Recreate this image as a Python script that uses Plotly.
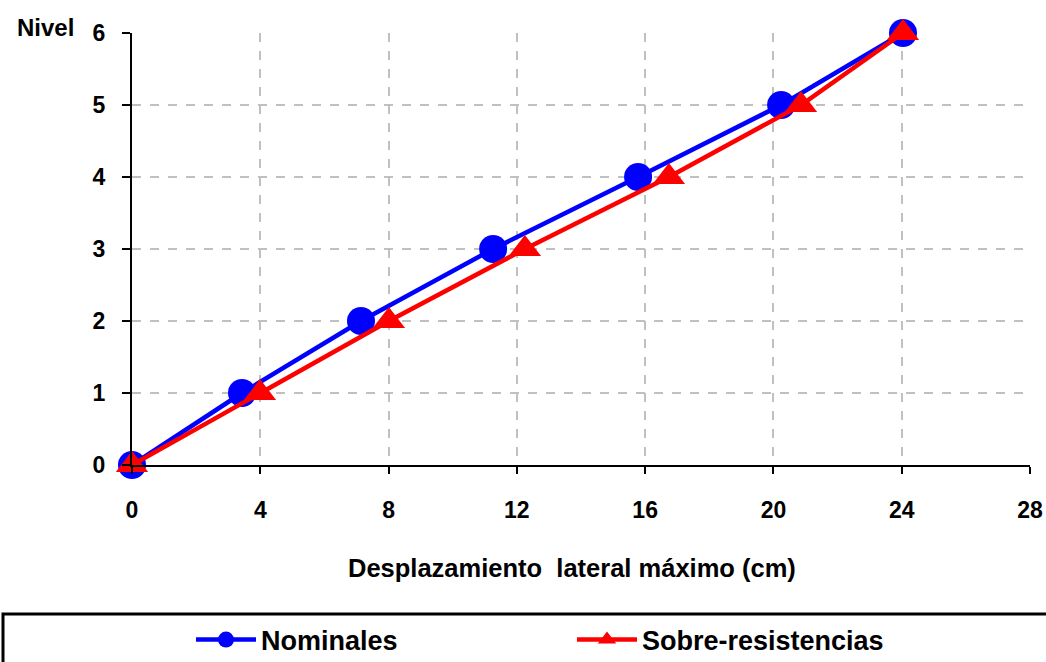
import plotly.graph_objects as go

niveles = [0, 1, 2, 3, 4, 5, 6]
nominales = [0, 3.43, 7.14, 11.26, 15.78, 20.24, 24.04]
sobre_resistencias = [0, 3.99, 8.01, 12.25, 16.74, 20.86, 24.04]
x_ticks = [0, 4, 8, 12, 16, 20, 24, 28]
y_ticks = [0, 1, 2, 3, 4, 5, 6]

FONT = "Liberation Sans, Arial, sans-serif"

fig = go.Figure()
fig.add_trace(go.Scatter(
    x=nominales, y=niveles, mode="lines+markers", name="Nominales",
    line=dict(color="#0000FF", width=4.5),
    marker=dict(symbol="circle", size=28, color="#0000FF"),
    cliponaxis=False,
))
fig.add_trace(go.Scatter(
    x=sobre_resistencias, y=niveles, mode="lines+markers", name="Sobre-resistencias",
    line=dict(color="#FF0000", width=4.5),
    marker=dict(symbol="triangle-up", size=28, color="#FF0000"),
    cliponaxis=False,
))

W, H = 1046, 662
L, R, T, B = 132, 16, 33, 662 - 465
pw = W - L - R
ph = H - T - B

def px_x(p):
    return (p - L) / pw

def px_y(p):
    return (H - B - p) / ph

fig.update_layout(
    width=W, height=H,
    margin=dict(l=L, r=R, t=T, b=B, autoexpand=False),
    paper_bgcolor="white", plot_bgcolor="white",
    font=dict(family=FONT, size=24, color="black"),
    showlegend=True,
    legend=dict(
        orientation="h", x=px_x(191), y=px_y(640), xanchor="left", yanchor="middle",
        entrywidth=306, entrywidthmode="pixels",
        font=dict(family=FONT, size=27, color="black", weight="bold"),
        bgcolor="rgba(0,0,0,0)", itemwidth=60,
    ),
    xaxis=dict(
        range=[0, 28], tickvals=x_ticks, ticktext=[str(v) for v in x_ticks],
        showline=True, linecolor="black", linewidth=2,
        ticks="outside", ticklen=7, tickwidth=2, tickcolor="black",
        ticklabelstandoff=16,
        showgrid=True, gridcolor="#c0c0c0", griddash="dash", gridwidth=2,
        zeroline=False, tickfont=dict(family=FONT, size=23, weight="bold"),
    ),
    yaxis=dict(
        range=[0, 6], tickvals=y_ticks, ticktext=[str(v) for v in y_ticks],
        showline=True, linecolor="black", linewidth=2,
        ticks="outside", ticklen=8, tickwidth=2, tickcolor="black",
        ticklabelstandoff=12,
        showgrid=True, gridcolor="#c0c0c0", griddash="dash", gridwidth=2,
        zeroline=False, tickfont=dict(family=FONT, size=23, weight="bold"),
    ),
    shapes=[dict(
        type="rect", xref="paper", yref="paper",
        x0=px_x(3), x1=px_x(1060), y0=px_y(614), y1=px_y(680),
        line=dict(color="black", width=3), fillcolor="rgba(0,0,0,0)", layer="below",
    )],
    annotations=[
        dict(
            text="<b>Nivel</b>", xref="paper", yref="paper",
            x=px_x(45), y=px_y(28), xanchor="center", yanchor="middle",
            showarrow=False, font=dict(family=FONT, size=24, color="black"),
        ),
        dict(
            text="<b>Desplazamiento  lateral máximo (cm)</b>", xref="paper", yref="paper",
            x=px_x(572), y=px_y(568), xanchor="center", yanchor="middle",
            showarrow=False, font=dict(family=FONT, size=25.5, color="black"),
        ),
    ],
)

fig.write_html(
    "out.html",
    config={"displayModeBar": False},
    post_script="document.body.style.margin='0';document.body.style.overflow='hidden';",
)
